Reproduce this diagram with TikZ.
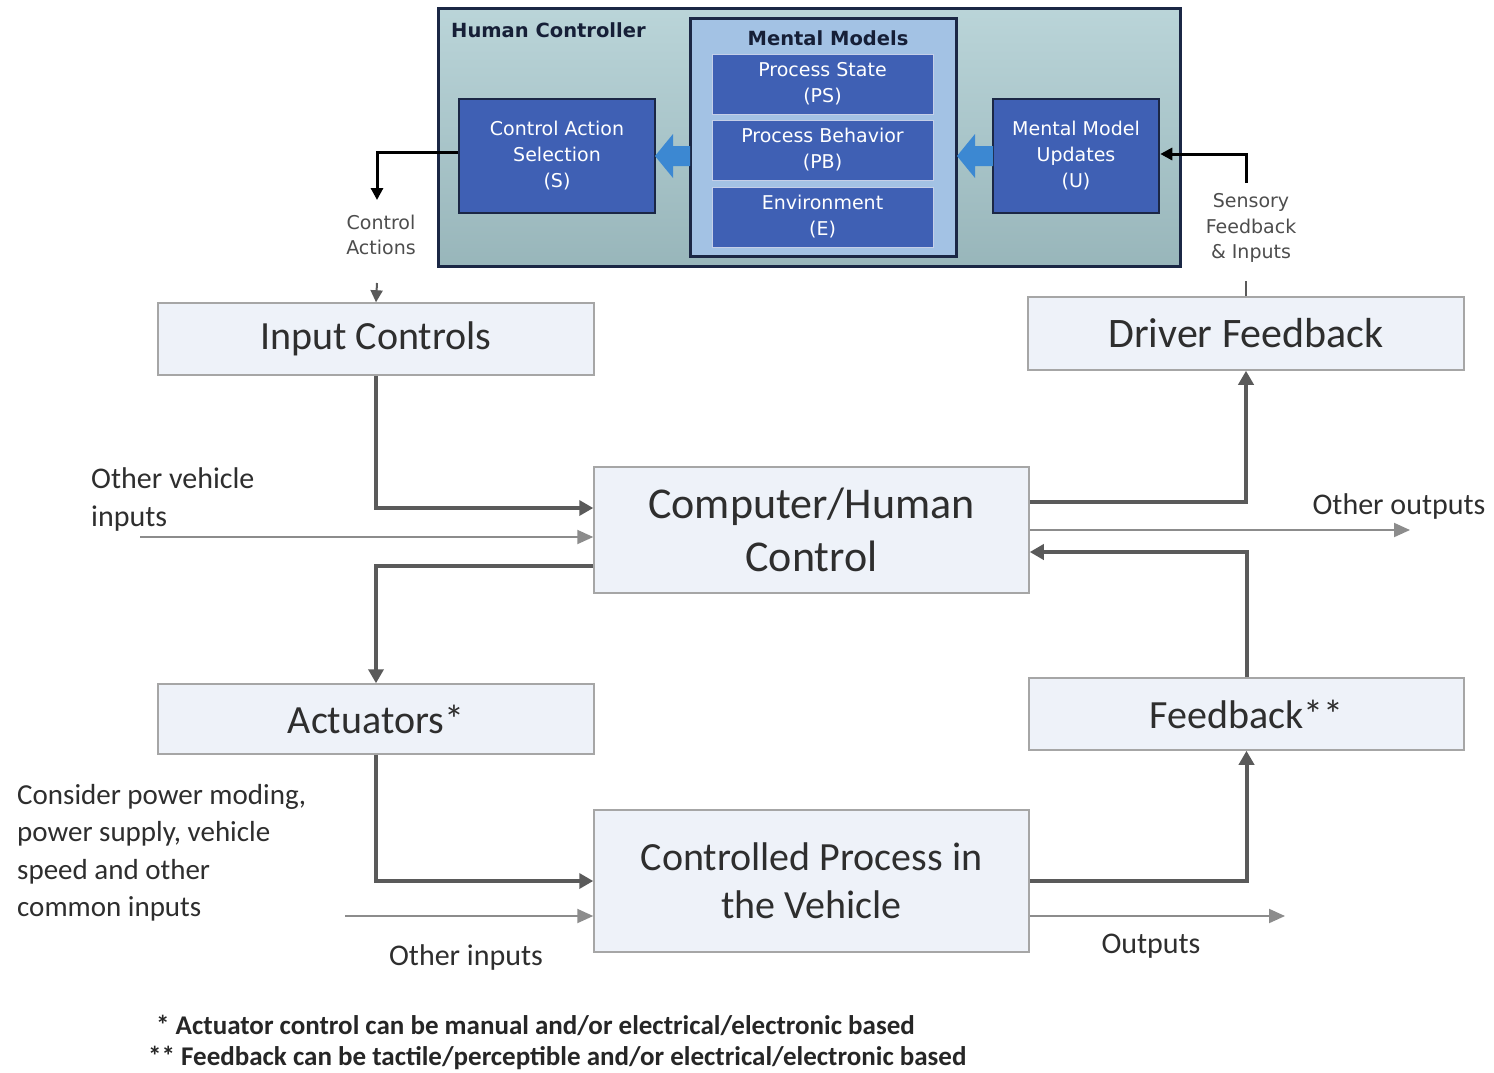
\documentclass[tikz,border=0pt]{standalone}
\usepackage{fontspec}
\setmainfont{Carlito}
\newfontfamily\hcfont{DejaVu Sans}
\usetikzlibrary{arrows.meta}
\definecolor{boxfill}{HTML}{EEF2F9}
\definecolor{boxline}{HTML}{A6A6A6}
\definecolor{conncol}{HTML}{5A5A5A}
\definecolor{thincol}{HTML}{8C8C8C}
\definecolor{hcfill}{HTML}{A9CACF}
\definecolor{mmfill}{HTML}{A3C2E4}
\definecolor{dblue}{HTML}{3F60B4}
\definecolor{navy}{HTML}{1B2745}
\definecolor{barrow}{HTML}{3C88D2}
\definecolor{txt}{HTML}{2E2E2E}
\begin{document}
\begin{tikzpicture}[x=1pt,y=-1pt,
  bigbox/.style={draw=boxline, line width=1.5pt, fill=boxfill, inner sep=0pt, align=center,
    font=\fontsize{40}{50}\selectfont, text=txt},
  flow/.style={draw=conncol, line width=4pt, -{Triangle[length=14pt,width=15pt]}},
  thinflow/.style={draw=thincol, line width=2pt, -{Triangle[length=16pt,width=14pt]}},
  hcarrow/.style={draw=black, line width=3pt, -{Triangle[length=12pt,width=12pt]}},
  lbl/.style={font=\fontsize{30}{38}\selectfont, text=txt, inner sep=0pt},
  hclbl/.style={font=\hcfont\fontsize{19}{25.5}\selectfont, text=txt!85, inner sep=0pt, align=center},
  inbox/.style={draw=white!70!dblue, line width=1pt, fill=dblue, text=white, inner sep=0pt,
    align=center, font=\hcfont\fontsize{19}{26}\selectfont, minimum width=221pt, minimum height=60pt},
  sidebox/.style={draw=navy, line width=2.5pt, fill=dblue, text=white, inner sep=0pt,
    align=center, font=\hcfont\fontsize{19}{26}\selectfont, minimum width=196pt, minimum height=114pt},
  bluearrow/.style={fill=barrow, draw=none}
]
\useasboundingbox (0,0) rectangle (1494,1072);
\fill[white] (0,0) rectangle (1494,1072);

% Human controller block
\node[draw=navy, line width=3pt, inner sep=0pt, minimum width=742pt, minimum height=258pt,
  top color=hcfill!80!white, bottom color=hcfill!90!black] (hc) at (809,137) {};
\node[anchor=west, inner sep=0pt, font=\hcfont\fontsize{19.5}{24}\selectfont\bfseries, text=navy!80!black] (hclab) at (451,30) {Human Controller};
\node[draw=navy, line width=3pt, fill=mmfill, inner sep=0pt, minimum width=266pt, minimum height=238pt] (mm) at (823,137) {};
\node[inner sep=0pt, font=\hcfont\fontsize{19.5}{24}\selectfont\bfseries, text=navy!80!black] (mmlab) at (828,38) {Mental Models};
\node[inbox] (ps) at (822.5,84) {Process State\\(PS)};
\node[inbox] (pb) at (822.5,150) {Process Behavior\\(PB)};
\node[inbox] (env) at (822.5,217) {Environment\\(E)};
\node[sidebox] (cas) at (557,156) {Control Action\\Selection\\(S)};
\node[sidebox, minimum width=166pt] (mmu) at (1076,156) {Mental Model\\Updates\\(U)};

% block arrows
\fill[bluearrow] (655,156) -- (673,134) -- (673,146) -- (690,146) -- (690,166) -- (673,166) -- (673,178) -- cycle;
\fill[bluearrow] (957,156) -- (975,134) -- (975,146) -- (993,146) -- (993,166) -- (975,166) -- (975,178) -- cycle;

% main boxes
\node[bigbox, minimum width=436pt, minimum height=72pt] (ic) at (376,339) {Input Controls};
\node[bigbox, minimum width=436pt, minimum height=73pt, font=\fontsize{42}{50}\selectfont] (df) at (1246,333.5) {Driver Feedback};
\node[bigbox, minimum width=435pt, minimum height=126pt, font=\fontsize{44}{53}\selectfont] (chc) at (811.5,530) {Computer/Human\\Control};
\node[bigbox, minimum width=436pt, minimum height=70pt] (act) at (376,719) {Actuators*};
\node[bigbox, minimum width=435pt, minimum height=72pt] (fb) at (1246.5,714) {Feedback**};
\node[bigbox, minimum width=435pt, minimum height=142pt, font=\fontsize{40}{48}\selectfont] (cp) at (811.5,881) {Controlled Process in\\the Vehicle};

% coordinates
\coordinate (caend) at (377,200);
\coordinate (castart) at (377,283);
\coordinate (sfstart) at (1246,183);
\coordinate (ovi) at (140,537);
\coordinate (oo) at (1410,530);
\coordinate (oi) at (345,916);
\coordinate (out) at (1285,916);

% human controller connectors
\draw[hcarrow] ([yshift=4pt]cas.west) -| (caend);
\draw[draw=conncol, line width=2pt, -{Triangle[length=12pt,width=12pt]}] (castart) -- (ic.north);
\draw[hcarrow] (sfstart) |- ([yshift=2pt]mmu.east);
\draw[draw=conncol, line width=2pt] (df.north) -- ++(0,-15);
\node[hclbl] (calab) at (381,235) {Control\\Actions};
\node[hclbl] (sflab) at (1251,228) {Sensory\\Feedback\\\& Inputs};

% main connectors
\draw[flow] (ic.south) |- ([yshift=22pt]chc.west);
\draw[thinflow] (ovi) -- ([yshift=-7pt]chc.west);
\draw[flow] ([yshift=-36pt]chc.west) -| (act.north);
\draw[flow] ([yshift=28pt]chc.east) -| (df.south);
\draw[thinflow] (chc.east) -- (oo);
\draw[flow] (fb.north) |- ([yshift=-22pt]chc.east);
\draw[flow] (act.south) |- (cp.west);
\draw[thinflow] (oi) -- ([yshift=-35pt]cp.west);
\draw[flow] (cp.east) -| (fb.south);
\draw[thinflow] ([yshift=-35pt]cp.east) -- (out);

% labels
\node[lbl, anchor=west, align=left] (ovilab) at (91,499) {Other vehicle\\inputs};
\node[lbl] (oolab) at (1399,506) {Other outputs};
\node[lbl, anchor=west, align=left, font=\fontsize{29}{37.5}\selectfont] (conslab) at (17,853) {Consider power moding,\\power supply, vehicle\\speed and other\\common inputs};
\node[lbl] (oilab) at (466,957) {Other inputs};
\node[lbl] (outlab) at (1151,946) {Outputs};

% footnotes
\node[anchor=west, inner sep=0pt, font=\fontsize{27}{31}\selectfont\bfseries, text=black!85, align=left] (fn) at (148,1042)
  {\hspace*{8pt}* Actuator control can be manual and/or electrical/electronic based\\** Feedback can be tactile/perceptible and/or electrical/electronic based};
\end{tikzpicture}
\end{document}
